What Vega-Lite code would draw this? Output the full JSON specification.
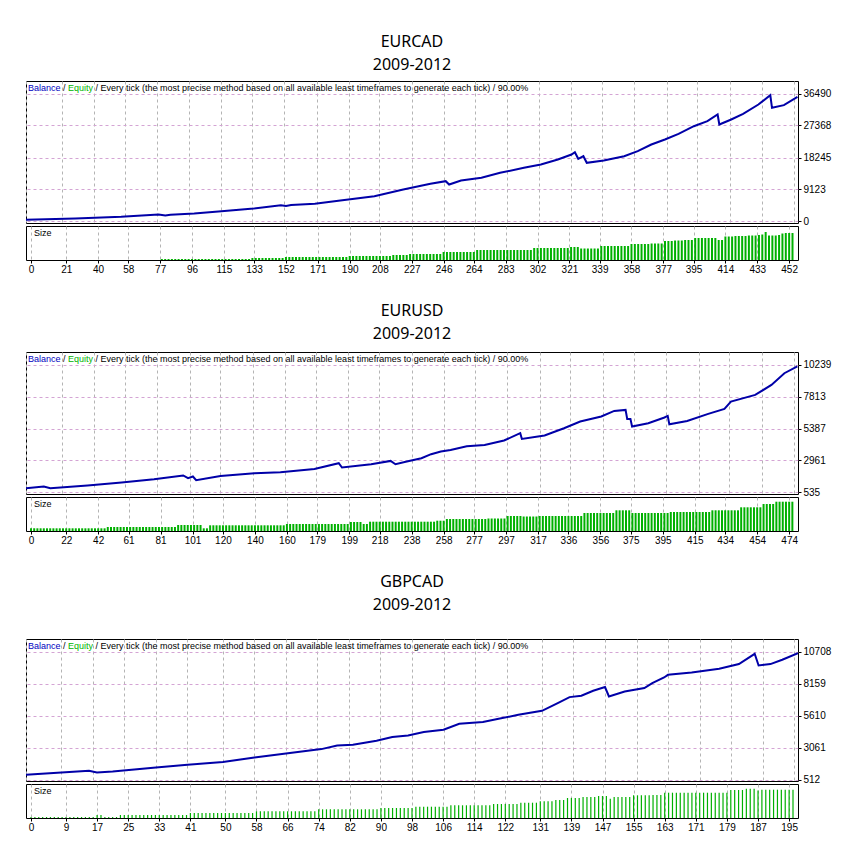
{
  "$schema": "https://vega.github.io/schema/vega-lite/v6.json",
  "background": "#ffffff",
  "padding": {"left": 25, "top": 33, "right": 0, "bottom": 0},
  "spacing": 27,
  "datasets": {
    "eurcad": [
      {"t":0,"v":500},{"t":29,"v":855},{"t":56,"v":1340},{"t":78,"v":2000},{"t":82,"v":1700},{"t":85,"v":1900},{"t":99,"v":2280},{"t":115,"v":2940},{"t":134,"v":3700},{"t":150,"v":4650},{"t":153,"v":4400},{"t":156,"v":4700},{"t":170,"v":5040},{"t":185,"v":5990},{"t":205,"v":7220},{"t":222,"v":9120},{"t":238,"v":10740},{"t":247,"v":11490},{"t":249,"v":10550},{"t":256,"v":11690},{"t":268,"v":12450},{"t":279,"v":13880},{"t":293,"v":15310},{"t":303,"v":16250},{"t":313,"v":17680},{"t":321,"v":19100},{"t":323,"v":19760},{"t":325,"v":17870},{"t":328,"v":18620},{"t":330,"v":16730},{"t":340,"v":17390},{"t":352,"v":18620},{"t":360,"v":20040},{"t":368,"v":21950},{"t":376,"v":23380},{"t":384,"v":25000},{"t":393,"v":27170},{"t":401,"v":28600},{"t":407,"v":30500},{"t":408,"v":27650},{"t":415,"v":29080},{"t":422,"v":30700},{"t":431,"v":33360},{"t":438,"v":36010},{"t":439,"v":32410},{"t":446,"v":33160},{"t":454,"v":35500}
    ],
    "eurcad_size": [
      {"t":78,"v":0.1},{"t":80,"v":0.1},{"t":82,"v":0.1},{"t":84,"v":0.1},{"t":86,"v":0.1},{"t":88,"v":0.1},{"t":90,"v":0.1},{"t":92,"v":0.1},{"t":94,"v":0.1},{"t":96,"v":0.1},{"t":98,"v":0.1},{"t":100,"v":0.1},{"t":102,"v":0.1},{"t":104,"v":0.1},{"t":106,"v":0.1},{"t":108,"v":0.1},{"t":110,"v":0.1},{"t":112,"v":0.1},{"t":114,"v":0.1},{"t":116,"v":0.1},{"t":118,"v":0.1},{"t":120,"v":0.1},{"t":122,"v":0.1},{"t":124,"v":0.1},{"t":126,"v":0.1},{"t":128,"v":0.1},{"t":130,"v":0.1},
      {"t":132,"v":0.2},{"t":134,"v":0.2},{"t":136,"v":0.2},{"t":138,"v":0.2},{"t":140,"v":0.2},{"t":142,"v":0.2},{"t":144,"v":0.2},{"t":146,"v":0.2},{"t":148,"v":0.2},{"t":150,"v":0.2},
      {"t":152,"v":0.3},{"t":154,"v":0.3},{"t":156,"v":0.3},{"t":158,"v":0.3},{"t":160,"v":0.3},{"t":162,"v":0.3},{"t":164,"v":0.3},{"t":166,"v":0.3},{"t":168,"v":0.3},{"t":170,"v":0.3},{"t":172,"v":0.3},{"t":174,"v":0.3},{"t":176,"v":0.3},{"t":178,"v":0.3},{"t":180,"v":0.3},{"t":182,"v":0.3},{"t":184,"v":0.3},{"t":186,"v":0.3},{"t":188,"v":0.3},
      {"t":190,"v":0.4},{"t":192,"v":0.4},{"t":194,"v":0.4},{"t":196,"v":0.4},{"t":198,"v":0.4},{"t":200,"v":0.4},{"t":202,"v":0.4},{"t":204,"v":0.4},{"t":206,"v":0.4},{"t":208,"v":0.4},{"t":210,"v":0.4},{"t":212,"v":0.4},{"t":214,"v":0.4},{"t":216,"v":0.5},{"t":218,"v":0.5},{"t":220,"v":0.5},{"t":222,"v":0.5},{"t":224,"v":0.5},
      {"t":226,"v":0.6},{"t":228,"v":0.6},{"t":230,"v":0.6},{"t":232,"v":0.6},{"t":234,"v":0.6},{"t":236,"v":0.6},{"t":238,"v":0.6},{"t":240,"v":0.6},{"t":242,"v":0.6},{"t":244,"v":0.6},
      {"t":246,"v":0.8},{"t":248,"v":0.8},{"t":250,"v":0.8},{"t":252,"v":0.8},{"t":254,"v":0.8},{"t":256,"v":0.8},{"t":258,"v":0.8},{"t":260,"v":0.8},{"t":262,"v":0.8},{"t":264,"v":0.8},
      {"t":266,"v":1.0},{"t":268,"v":1.0},{"t":270,"v":1.0},{"t":272,"v":1.0},{"t":274,"v":1.0},{"t":276,"v":1.0},{"t":278,"v":1.0},{"t":280,"v":1.0},{"t":282,"v":1.0},{"t":284,"v":1.0},{"t":286,"v":1.0},{"t":288,"v":1.0},{"t":290,"v":1.0},{"t":292,"v":1.0},{"t":294,"v":1.0},{"t":296,"v":1.0},{"t":298,"v":1.0},
      {"t":300,"v":1.2},{"t":302,"v":1.2},{"t":304,"v":1.2},{"t":306,"v":1.2},{"t":308,"v":1.2},{"t":310,"v":1.2},{"t":312,"v":1.2},{"t":314,"v":1.2},{"t":316,"v":1.2},{"t":318,"v":1.2},{"t":320,"v":1.2},
      {"t":322,"v":1.3},{"t":324,"v":1.3},{"t":326,"v":1.3},
      {"t":328,"v":1.15},{"t":330,"v":1.15},{"t":332,"v":1.15},{"t":334,"v":1.15},{"t":336,"v":1.15},{"t":338,"v":1.15},
      {"t":340,"v":1.4},{"t":342,"v":1.4},{"t":344,"v":1.4},{"t":346,"v":1.4},{"t":348,"v":1.4},{"t":350,"v":1.4},{"t":352,"v":1.4},{"t":354,"v":1.4},{"t":356,"v":1.4},
      {"t":358,"v":1.6},{"t":360,"v":1.6},{"t":362,"v":1.6},{"t":364,"v":1.6},{"t":366,"v":1.6},{"t":368,"v":1.6},{"t":370,"v":1.65},{"t":372,"v":1.65},{"t":374,"v":1.65},{"t":376,"v":1.65},
      {"t":378,"v":1.9},{"t":380,"v":1.9},{"t":382,"v":1.9},{"t":384,"v":1.95},{"t":386,"v":1.95},{"t":388,"v":1.95},{"t":390,"v":2.0},{"t":392,"v":2.0},{"t":394,"v":2.0},
      {"t":396,"v":2.2},{"t":398,"v":2.2},{"t":400,"v":2.2},{"t":402,"v":2.2},{"t":404,"v":2.2},{"t":406,"v":2.2},{"t":408,"v":2.2},
      {"t":410,"v":2.0},{"t":412,"v":2.0},
      {"t":414,"v":2.35},{"t":416,"v":2.35},{"t":418,"v":2.35},{"t":420,"v":2.4},{"t":422,"v":2.4},{"t":424,"v":2.4},{"t":426,"v":2.4},{"t":428,"v":2.45},{"t":430,"v":2.45},{"t":432,"v":2.45},
      {"t":434,"v":2.5},{"t":436,"v":2.55},{"t":438,"v":2.8},
      {"t":440,"v":2.45},{"t":442,"v":2.45},{"t":444,"v":2.45},{"t":446,"v":2.5},
      {"t":448,"v":2.65},{"t":450,"v":2.7},{"t":452,"v":2.7},{"t":454,"v":2.7}
    ],
    "eurusd": [
      {"t":0,"v":861},{"t":11,"v":990},{"t":15,"v":860},{"t":38,"v":1065},{"t":59,"v":1293},{"t":79,"v":1543},{"t":97,"v":1824},{"t":100,"v":1620},{"t":103,"v":1750},{"t":105,"v":1467},{"t":120,"v":1793},{"t":141,"v":1998},{"t":157,"v":2074},{"t":178,"v":2324},{"t":193,"v":2756},{"t":195,"v":2430},{"t":213,"v":2680},{"t":225,"v":2930},{"t":228,"v":2680},{"t":235,"v":2885},{"t":244,"v":3135},{"t":250,"v":3440},{"t":256,"v":3640},{"t":262,"v":3764},{"t":272,"v":4044},{"t":283,"v":4143},{"t":295,"v":4476},{"t":305,"v":5030},{"t":306,"v":4598},{"t":320,"v":4855},{"t":332,"v":5409},{"t":342,"v":5917},{"t":355,"v":6296},{"t":363,"v":6720},{"t":370,"v":6796},{"t":371,"v":6114},{"t":373,"v":6114},{"t":374,"v":5538},{"t":384,"v":5788},{"t":394,"v":6220},{"t":396,"v":6340},{"t":397,"v":5710},{"t":408,"v":5962},{"t":421,"v":6493},{"t":431,"v":6872},{"t":435,"v":7433},{"t":450,"v":7933},{"t":460,"v":8691},{"t":468,"v":9578},{"t":476,"v":10100}
    ],
    "eurusd_size": [
      {"t":0,"v":0.27},{"t":2,"v":0.27},{"t":4,"v":0.27},{"t":6,"v":0.27},{"t":8,"v":0.27},{"t":10,"v":0.27},{"t":12,"v":0.27},{"t":14,"v":0.27},{"t":16,"v":0.27},{"t":18,"v":0.27},{"t":20,"v":0.27},{"t":22,"v":0.27},{"t":24,"v":0.27},{"t":26,"v":0.27},{"t":28,"v":0.27},{"t":30,"v":0.27},{"t":32,"v":0.27},{"t":34,"v":0.27},{"t":36,"v":0.27},{"t":38,"v":0.27},{"t":40,"v":0.27},{"t":42,"v":0.27},{"t":44,"v":0.27},{"t":46,"v":0.27},
      {"t":48,"v":0.4},{"t":50,"v":0.4},{"t":52,"v":0.4},{"t":54,"v":0.4},{"t":56,"v":0.4},{"t":58,"v":0.4},{"t":60,"v":0.4},{"t":62,"v":0.4},{"t":64,"v":0.4},{"t":66,"v":0.4},{"t":68,"v":0.4},{"t":70,"v":0.4},{"t":72,"v":0.4},{"t":74,"v":0.4},{"t":76,"v":0.4},{"t":78,"v":0.4},{"t":80,"v":0.4},{"t":82,"v":0.4},{"t":84,"v":0.4},{"t":86,"v":0.4},{"t":88,"v":0.4},{"t":90,"v":0.4},
      {"t":92,"v":0.6},{"t":94,"v":0.6},{"t":96,"v":0.6},{"t":98,"v":0.6},{"t":100,"v":0.6},{"t":102,"v":0.6},{"t":104,"v":0.6},{"t":106,"v":0.6},
      {"t":108,"v":0.27},{"t":110,"v":0.27},
      {"t":112,"v":0.57},{"t":114,"v":0.57},{"t":116,"v":0.57},{"t":118,"v":0.57},{"t":120,"v":0.57},{"t":122,"v":0.57},{"t":124,"v":0.57},{"t":126,"v":0.57},{"t":128,"v":0.57},{"t":130,"v":0.57},{"t":132,"v":0.57},{"t":134,"v":0.57},{"t":136,"v":0.57},{"t":138,"v":0.57},{"t":140,"v":0.57},{"t":142,"v":0.57},{"t":144,"v":0.57},{"t":146,"v":0.57},{"t":148,"v":0.57},{"t":150,"v":0.57},{"t":152,"v":0.57},{"t":154,"v":0.57},{"t":156,"v":0.57},{"t":158,"v":0.57},
      {"t":160,"v":0.7},{"t":162,"v":0.7},{"t":164,"v":0.7},{"t":166,"v":0.7},{"t":168,"v":0.7},{"t":170,"v":0.7},{"t":172,"v":0.7},{"t":174,"v":0.7},{"t":176,"v":0.7},{"t":178,"v":0.7},{"t":180,"v":0.7},{"t":182,"v":0.7},{"t":184,"v":0.7},{"t":186,"v":0.7},{"t":188,"v":0.7},{"t":190,"v":0.7},{"t":192,"v":0.7},{"t":194,"v":0.7},{"t":196,"v":0.7},{"t":198,"v":0.7},
      {"t":200,"v":0.9},{"t":202,"v":0.9},{"t":204,"v":0.9},{"t":206,"v":0.9},
      {"t":208,"v":0.7},{"t":210,"v":0.7},
      {"t":212,"v":0.93},{"t":214,"v":0.93},{"t":216,"v":0.93},{"t":218,"v":0.93},{"t":220,"v":0.93},{"t":222,"v":0.93},{"t":224,"v":0.93},{"t":226,"v":0.93},{"t":228,"v":0.93},{"t":230,"v":0.93},{"t":232,"v":0.93},{"t":234,"v":0.93},{"t":236,"v":0.93},{"t":238,"v":0.93},{"t":240,"v":0.93},{"t":242,"v":0.93},{"t":244,"v":0.93},{"t":246,"v":0.93},{"t":248,"v":0.93},{"t":250,"v":0.93},{"t":252,"v":0.93},
      {"t":254,"v":1.03},{"t":256,"v":1.03},{"t":258,"v":1.03},
      {"t":260,"v":1.2},{"t":262,"v":1.2},{"t":264,"v":1.2},{"t":266,"v":1.2},{"t":268,"v":1.2},{"t":270,"v":1.2},{"t":272,"v":1.2},{"t":274,"v":1.2},{"t":276,"v":1.2},{"t":278,"v":1.2},{"t":280,"v":1.2},{"t":282,"v":1.2},{"t":284,"v":1.2},{"t":286,"v":1.25},{"t":288,"v":1.25},{"t":290,"v":1.25},{"t":292,"v":1.25},{"t":294,"v":1.25},{"t":296,"v":1.25},
      {"t":298,"v":1.5},{"t":300,"v":1.5},{"t":302,"v":1.5},{"t":304,"v":1.5},{"t":306,"v":1.5},{"t":308,"v":1.45},{"t":310,"v":1.45},{"t":312,"v":1.45},{"t":314,"v":1.45},{"t":316,"v":1.45},{"t":318,"v":1.5},{"t":320,"v":1.5},{"t":322,"v":1.5},{"t":324,"v":1.5},{"t":326,"v":1.5},{"t":328,"v":1.5},{"t":330,"v":1.5},{"t":332,"v":1.5},{"t":334,"v":1.5},{"t":336,"v":1.5},{"t":338,"v":1.5},{"t":340,"v":1.5},{"t":342,"v":1.5},{"t":344,"v":1.5},
      {"t":346,"v":1.8},{"t":348,"v":1.8},{"t":350,"v":1.8},{"t":352,"v":1.8},{"t":354,"v":1.8},{"t":356,"v":1.8},{"t":358,"v":1.8},{"t":360,"v":1.8},{"t":362,"v":1.8},{"t":364,"v":1.8},
      {"t":366,"v":2.07},{"t":368,"v":2.07},{"t":370,"v":2.07},{"t":372,"v":2.07},{"t":374,"v":2.07},
      {"t":376,"v":1.8},{"t":378,"v":1.8},{"t":380,"v":1.8},{"t":382,"v":1.8},{"t":384,"v":1.8},{"t":386,"v":1.8},{"t":388,"v":1.8},{"t":390,"v":1.8},{"t":392,"v":1.8},{"t":394,"v":1.8},{"t":396,"v":1.8},{"t":398,"v":1.8},
      {"t":400,"v":1.9},{"t":402,"v":1.9},{"t":404,"v":1.9},{"t":406,"v":1.9},{"t":408,"v":1.9},{"t":410,"v":1.9},{"t":412,"v":1.9},{"t":414,"v":1.9},{"t":416,"v":1.9},{"t":418,"v":1.9},{"t":420,"v":1.9},{"t":422,"v":1.9},{"t":424,"v":1.9},
      {"t":426,"v":2.07},{"t":428,"v":2.07},{"t":430,"v":2.07},{"t":432,"v":2.07},{"t":434,"v":2.07},{"t":436,"v":2.07},{"t":438,"v":2.07},{"t":440,"v":2.07},{"t":442,"v":2.07},
      {"t":444,"v":2.37},{"t":446,"v":2.37},{"t":448,"v":2.37},{"t":450,"v":2.37},{"t":452,"v":2.37},{"t":454,"v":2.37},{"t":456,"v":2.37},
      {"t":458,"v":2.7},{"t":460,"v":2.7},{"t":462,"v":2.7},{"t":464,"v":2.7},
      {"t":466,"v":2.93},{"t":468,"v":2.93},{"t":470,"v":2.93},{"t":472,"v":2.93},{"t":474,"v":2.93},{"t":476,"v":2.93}
    ],
    "gbpcad": [
      {"t":0,"v":886},{"t":8,"v":1046},{"t":16,"v":1205},{"t":18,"v":1070},{"t":22,"v":1149},{"t":33,"v":1468},{"t":41,"v":1683},{"t":50,"v":1898},{"t":58,"v":2265},{"t":66,"v":2583},{"t":75,"v":2934},{"t":79,"v":3220},{"t":83,"v":3276},{"t":89,"v":3595},{"t":93,"v":3890},{"t":97,"v":4017},{"t":101,"v":4288},{"t":106,"v":4471},{"t":110,"v":4949},{"t":116,"v":5085},{"t":120,"v":5347},{"t":125,"v":5666},{"t":131,"v":5985},{"t":135,"v":6598},{"t":138,"v":7076},{"t":141,"v":7180},{"t":144,"v":7578},{"t":147,"v":7873},{"t":148,"v":7124},{"t":152,"v":7522},{"t":157,"v":7793},{"t":159,"v":8191},{"t":162,"v":8637},{"t":163,"v":8852},{"t":169,"v":9036},{"t":176,"v":9330},{"t":181,"v":9705},{"t":185,"v":10525},{"t":186,"v":9593},{"t":189,"v":9705},{"t":192,"v":10050},{"t":196,"v":10580}
    ],
    "gbpcad_size": [
      {"t":0,"v":0.1},{"t":1,"v":0.1},{"t":2,"v":0.1},{"t":3,"v":0.1},{"t":4,"v":0.1},{"t":5,"v":0.1},{"t":6,"v":0.1},{"t":7,"v":0.1},{"t":8,"v":0.1},{"t":9,"v":0.1},{"t":10,"v":0.1},{"t":11,"v":0.1},{"t":12,"v":0.1},{"t":13,"v":0.1},{"t":14,"v":0.1},{"t":15,"v":0.1},{"t":16,"v":0.1},
      {"t":17,"v":0.3},{"t":18,"v":0.3},
      {"t":19,"v":0.1},{"t":20,"v":0.1},{"t":21,"v":0.1},{"t":22,"v":0.1},
      {"t":23,"v":0.3},{"t":24,"v":0.3},{"t":25,"v":0.3},{"t":26,"v":0.3},{"t":27,"v":0.3},{"t":28,"v":0.3},{"t":29,"v":0.3},{"t":30,"v":0.3},{"t":31,"v":0.3},{"t":32,"v":0.3},{"t":33,"v":0.3},{"t":34,"v":0.3},{"t":35,"v":0.3},{"t":36,"v":0.3},{"t":37,"v":0.3},{"t":38,"v":0.3},{"t":39,"v":0.3},{"t":40,"v":0.3},
      {"t":41,"v":0.5},{"t":42,"v":0.5},{"t":43,"v":0.5},{"t":44,"v":0.5},{"t":45,"v":0.5},{"t":46,"v":0.5},{"t":47,"v":0.5},{"t":48,"v":0.5},{"t":49,"v":0.5},{"t":50,"v":0.5},{"t":51,"v":0.5},{"t":52,"v":0.5},{"t":53,"v":0.5},{"t":54,"v":0.5},{"t":55,"v":0.5},{"t":56,"v":0.5},{"t":57,"v":0.5},
      {"t":58,"v":0.67},{"t":59,"v":0.67},{"t":60,"v":0.67},{"t":61,"v":0.67},{"t":62,"v":0.67},{"t":63,"v":0.67},{"t":64,"v":0.67},{"t":65,"v":0.67},{"t":66,"v":0.67},{"t":67,"v":0.67},{"t":68,"v":0.67},{"t":69,"v":0.67},{"t":70,"v":0.67},{"t":71,"v":0.67},{"t":72,"v":0.67},{"t":73,"v":0.67},
      {"t":74,"v":0.87},{"t":75,"v":0.87},{"t":76,"v":0.87},{"t":77,"v":0.87},{"t":78,"v":0.87},{"t":79,"v":0.87},{"t":80,"v":0.87},{"t":81,"v":0.87},{"t":82,"v":0.87},{"t":83,"v":0.87},{"t":84,"v":0.87},{"t":85,"v":0.87},{"t":86,"v":0.87},{"t":87,"v":0.87},{"t":88,"v":0.87},{"t":89,"v":0.87},
      {"t":90,"v":1.0},{"t":91,"v":1.0},{"t":92,"v":1.0},{"t":93,"v":1.0},{"t":94,"v":1.0},{"t":95,"v":1.0},{"t":96,"v":1.0},{"t":97,"v":1.0},{"t":98,"v":1.0},
      {"t":99,"v":1.13},{"t":100,"v":1.13},{"t":101,"v":1.13},{"t":102,"v":1.13},{"t":103,"v":1.13},{"t":104,"v":1.13},{"t":105,"v":1.13},{"t":106,"v":1.13},{"t":107,"v":1.13},
      {"t":108,"v":1.27},{"t":109,"v":1.27},{"t":110,"v":1.27},{"t":111,"v":1.27},{"t":112,"v":1.27},{"t":113,"v":1.27},{"t":114,"v":1.27},{"t":115,"v":1.27},{"t":116,"v":1.27},{"t":117,"v":1.27},{"t":118,"v":1.27},
      {"t":119,"v":1.4},{"t":120,"v":1.4},{"t":121,"v":1.4},{"t":122,"v":1.4},{"t":123,"v":1.4},{"t":124,"v":1.4},{"t":125,"v":1.4},
      {"t":126,"v":1.53},{"t":127,"v":1.53},{"t":128,"v":1.53},{"t":129,"v":1.53},{"t":130,"v":1.53},
      {"t":131,"v":1.67},{"t":132,"v":1.67},{"t":133,"v":1.67},{"t":134,"v":1.67},
      {"t":135,"v":1.8},{"t":136,"v":1.8},{"t":137,"v":1.8},
      {"t":138,"v":2.0},{"t":139,"v":2.0},{"t":140,"v":2.0},{"t":141,"v":2.0},
      {"t":142,"v":2.1},{"t":143,"v":2.1},{"t":144,"v":2.1},{"t":145,"v":2.1},{"t":146,"v":2.2},{"t":147,"v":2.2},{"t":148,"v":2.2},
      {"t":149,"v":1.93},
      {"t":150,"v":2.1},{"t":151,"v":2.1},{"t":152,"v":2.1},{"t":153,"v":2.1},{"t":154,"v":2.1},
      {"t":155,"v":2.27},{"t":156,"v":2.27},{"t":157,"v":2.27},{"t":158,"v":2.27},{"t":159,"v":2.27},{"t":160,"v":2.3},{"t":161,"v":2.3},{"t":162,"v":2.3},
      {"t":163,"v":2.53},{"t":164,"v":2.53},{"t":165,"v":2.53},{"t":166,"v":2.53},{"t":167,"v":2.53},{"t":168,"v":2.53},{"t":169,"v":2.53},{"t":170,"v":2.53},{"t":171,"v":2.53},{"t":172,"v":2.53},{"t":173,"v":2.53},{"t":174,"v":2.53},{"t":175,"v":2.53},{"t":176,"v":2.53},{"t":177,"v":2.53},{"t":178,"v":2.53},{"t":179,"v":2.53},
      {"t":180,"v":2.8},{"t":181,"v":2.8},{"t":182,"v":2.8},{"t":183,"v":2.8},
      {"t":184,"v":2.93},{"t":185,"v":2.93},{"t":186,"v":2.93},
      {"t":187,"v":2.75},
      {"t":188,"v":2.83},{"t":189,"v":2.83},{"t":190,"v":2.83},{"t":191,"v":2.83},{"t":192,"v":2.83},{"t":193,"v":2.83},{"t":194,"v":2.83},{"t":195,"v":2.83},{"t":196,"v":2.83}
    ]
  },
  "vconcat": [
    {
      "spacing": 3,
      "bounds": "flush",
      "vconcat": [
        {
          "title": {"text": ["EURCAD", "2009-2012"], "offset": 8},
          "width": 772,
          "height": 142,
          "layer": [
            {
              "data": {"name": "eurcad"},
              "mark": {"type": "line", "color": "#0000a8", "strokeWidth": 2, "clip": true},
              "encoding": {
                "x": {"field": "t", "type": "quantitative", "scale": {"domain": [0, 454.3], "nice": false, "zero": false},
                  "axis": {"values": [0,21,40,58,77,96,115,133,152,171,190,208,227,246,264,283,302,321,339,358,377,395,414,433,452], "tickCount": 40, "labels": false, "ticks": false, "domain": false, "grid": true, "gridColor": "#b4b4b4", "title": null}},
                "y": {"field": "v", "type": "quantitative", "scale": {"domain": [-428, 40054], "nice": false, "zero": false},
                  "axis": {"orient": "right", "values": [0, 9123, 18245, 27368, 36490], "tickCount": 10, "labelOverlap": false, "format": "d", "grid": true, "gridColor": "#d4a4d4", "domain": false, "tickSize": 3, "labelPadding": 2, "title": null}}
              }
            },
            {"data": {"values": [{}]}, "mark": {"type": "text", "align": "left", "baseline": "top", "dx": 2, "dy": 3, "color": "#0000c0", "text": "Balance"}, "encoding": {"x": {"datum": 0, "type": "quantitative"}, "y": {"datum": 40054, "type": "quantitative"}}},
            {"data": {"values": [{}]}, "mark": {"type": "text", "align": "left", "baseline": "top", "dx": 37, "dy": 3, "color": "#000000", "text": "/"}, "encoding": {"x": {"datum": 0, "type": "quantitative"}, "y": {"datum": 40054, "type": "quantitative"}}},
            {"data": {"values": [{}]}, "mark": {"type": "text", "align": "left", "baseline": "top", "dx": 42, "dy": 3, "color": "#00b400", "text": "Equity"}, "encoding": {"x": {"datum": 0, "type": "quantitative"}, "y": {"datum": 40054, "type": "quantitative"}}},
            {"data": {"values": [{}]}, "mark": {"type": "text", "align": "left", "baseline": "top", "dx": 69.5, "dy": 3, "color": "#000000", "text": "/ Every tick (the most precise method based on all available least timeframes to generate each tick) / 90.00%"}, "encoding": {"x": {"datum": 0, "type": "quantitative"}, "y": {"datum": 40054, "type": "quantitative"}}}
          ]
        },
        {
          "width": 772,
          "height": 34,
          "layer": [
            {
              "data": {"name": "eurcad_size"},
              "mark": {"type": "bar", "size": 2, "color": "#00b000", "clip": true},
              "encoding": {
                "x": {"field": "t", "type": "quantitative", "scale": {"domain": [0, 454.3], "nice": false, "zero": false},
                  "axis": {"values": [0,21,40,58,77,96,115,133,152,171,190,208,227,246,264,283,302,321,339,358,377,395,414,433,452], "tickCount": 40, "grid": true, "gridColor": "#b4b4b4", "domain": false, "tickSize": 3, "labelPadding": 1, "labelFlush": true, "labelOverlap": false, "title": null}},
                "y": {"field": "v", "type": "quantitative", "scale": {"domain": [0, 3.4], "nice": false}, "axis": null}
              }
            },
            {"data": {"values": [{}]}, "mark": {"type": "text", "align": "left", "baseline": "top", "dx": 3, "dy": 3, "color": "#000000", "text": "Size"}, "encoding": {"x": {"datum": 0, "type": "quantitative"}, "y": {"datum": 3.4, "type": "quantitative"}}}
          ]
        }
      ]
    },
    {
      "spacing": 3,
      "bounds": "flush",
      "vconcat": [
        {
          "title": {"text": ["EURUSD", "2009-2012"], "offset": 10},
          "width": 772,
          "height": 142,
          "layer": [
            {
              "data": {"name": "eurusd"},
              "mark": {"type": "line", "color": "#0000a8", "strokeWidth": 2, "clip": true},
              "encoding": {
                "x": {"field": "t", "type": "quantitative", "scale": {"domain": [0, 476.4], "nice": false, "zero": false},
                  "axis": {"values": [0,22,42,61,81,101,120,140,160,179,199,218,238,258,277,297,317,336,356,375,395,415,434,454,474], "tickCount": 40, "labels": false, "ticks": false, "domain": false, "grid": true, "gridColor": "#b4b4b4", "title": null}},
                "y": {"field": "v", "type": "quantitative", "scale": {"domain": [421, 11187], "nice": false, "zero": false},
                  "axis": {"orient": "right", "values": [535, 2961, 5387, 7813, 10239], "tickCount": 10, "labelOverlap": false, "format": "d", "grid": true, "gridColor": "#d4a4d4", "domain": false, "tickSize": 3, "labelPadding": 2, "title": null}}
              }
            },
            {"data": {"values": [{}]}, "mark": {"type": "text", "align": "left", "baseline": "top", "dx": 2, "dy": 3, "color": "#0000c0", "text": "Balance"}, "encoding": {"x": {"datum": 0, "type": "quantitative"}, "y": {"datum": 11187, "type": "quantitative"}}},
            {"data": {"values": [{}]}, "mark": {"type": "text", "align": "left", "baseline": "top", "dx": 37, "dy": 3, "color": "#000000", "text": "/"}, "encoding": {"x": {"datum": 0, "type": "quantitative"}, "y": {"datum": 11187, "type": "quantitative"}}},
            {"data": {"values": [{}]}, "mark": {"type": "text", "align": "left", "baseline": "top", "dx": 42, "dy": 3, "color": "#00b400", "text": "Equity"}, "encoding": {"x": {"datum": 0, "type": "quantitative"}, "y": {"datum": 11187, "type": "quantitative"}}},
            {"data": {"values": [{}]}, "mark": {"type": "text", "align": "left", "baseline": "top", "dx": 69.5, "dy": 3, "color": "#000000", "text": "/ Every tick (the most precise method based on all available least timeframes to generate each tick) / 90.00%"}, "encoding": {"x": {"datum": 0, "type": "quantitative"}, "y": {"datum": 11187, "type": "quantitative"}}}
          ]
        },
        {
          "width": 772,
          "height": 34,
          "layer": [
            {
              "data": {"name": "eurusd_size"},
              "mark": {"type": "bar", "size": 2, "color": "#00b000", "clip": true},
              "encoding": {
                "x": {"field": "t", "type": "quantitative", "scale": {"domain": [0, 476.4], "nice": false, "zero": false},
                  "axis": {"values": [0,22,42,61,81,101,120,140,160,179,199,218,238,258,277,297,317,336,356,375,395,415,434,454,474], "tickCount": 40, "grid": true, "gridColor": "#b4b4b4", "domain": false, "tickSize": 3, "labelPadding": 1, "labelFlush": true, "labelOverlap": false, "title": null}},
                "y": {"field": "v", "type": "quantitative", "scale": {"domain": [0, 3.4], "nice": false}, "axis": null}
              }
            },
            {"data": {"values": [{}]}, "mark": {"type": "text", "align": "left", "baseline": "top", "dx": 3, "dy": 3, "color": "#000000", "text": "Size"}, "encoding": {"x": {"datum": 0, "type": "quantitative"}, "y": {"datum": 3.4, "type": "quantitative"}}}
          ]
        }
      ]
    },
    {
      "spacing": 3,
      "bounds": "flush",
      "vconcat": [
        {
          "title": {"text": ["GBPCAD", "2009-2012"], "offset": 26},
          "width": 772,
          "height": 142,
          "layer": [
            {
              "data": {"name": "gbpcad"},
              "mark": {"type": "line", "color": "#0000a8", "strokeWidth": 2, "clip": true},
              "encoding": {
                "x": {"field": "t", "type": "quantitative", "scale": {"domain": [0, 196], "nice": false, "zero": false},
                  "axis": {"values": [0,9,17,25,33,41,50,58,66,74,82,90,98,106,114,122,131,139,147,155,163,171,179,187,195], "tickCount": 40, "labels": false, "ticks": false, "domain": false, "grid": true, "gridColor": "#b4b4b4", "title": null}},
                "y": {"field": "v", "type": "quantitative", "scale": {"domain": [393, 11704], "nice": false, "zero": false},
                  "axis": {"orient": "right", "values": [512, 3061, 5610, 8159, 10708], "tickCount": 10, "labelOverlap": false, "format": "d", "grid": true, "gridColor": "#d4a4d4", "domain": false, "tickSize": 3, "labelPadding": 2, "title": null}}
              }
            },
            {"data": {"values": [{}]}, "mark": {"type": "text", "align": "left", "baseline": "top", "dx": 2, "dy": 3, "color": "#0000c0", "text": "Balance"}, "encoding": {"x": {"datum": 0, "type": "quantitative"}, "y": {"datum": 11704, "type": "quantitative"}}},
            {"data": {"values": [{}]}, "mark": {"type": "text", "align": "left", "baseline": "top", "dx": 37, "dy": 3, "color": "#000000", "text": "/"}, "encoding": {"x": {"datum": 0, "type": "quantitative"}, "y": {"datum": 11704, "type": "quantitative"}}},
            {"data": {"values": [{}]}, "mark": {"type": "text", "align": "left", "baseline": "top", "dx": 42, "dy": 3, "color": "#00b400", "text": "Equity"}, "encoding": {"x": {"datum": 0, "type": "quantitative"}, "y": {"datum": 11704, "type": "quantitative"}}},
            {"data": {"values": [{}]}, "mark": {"type": "text", "align": "left", "baseline": "top", "dx": 69.5, "dy": 3, "color": "#000000", "text": "/ Every tick (the most precise method based on all available least timeframes to generate each tick) / 90.00%"}, "encoding": {"x": {"datum": 0, "type": "quantitative"}, "y": {"datum": 11704, "type": "quantitative"}}}
          ]
        },
        {
          "width": 772,
          "height": 34,
          "layer": [
            {
              "data": {"name": "gbpcad_size"},
              "mark": {"type": "bar", "size": 1.2, "color": "#00b000", "clip": true},
              "encoding": {
                "x": {"field": "t", "type": "quantitative", "scale": {"domain": [0, 196], "nice": false, "zero": false},
                  "axis": {"values": [0,9,17,25,33,41,50,58,66,74,82,90,98,106,114,122,131,139,147,155,163,171,179,187,195], "tickCount": 40, "grid": true, "gridColor": "#b4b4b4", "domain": false, "tickSize": 3, "labelPadding": 1, "labelFlush": true, "labelOverlap": false, "title": null}},
                "y": {"field": "v", "type": "quantitative", "scale": {"domain": [0, 3.4], "nice": false}, "axis": null}
              }
            },
            {"data": {"values": [{}]}, "mark": {"type": "text", "align": "left", "baseline": "top", "dx": 3, "dy": 3, "color": "#000000", "text": "Size"}, "encoding": {"x": {"datum": 0, "type": "quantitative"}, "y": {"datum": 3.4, "type": "quantitative"}}}
          ]
        }
      ]
    }
  ],
  "config": {
    "view": {"stroke": "#000000", "strokeWidth": 1},
    "axis": {"labelFont": "Liberation Sans", "labelFontSize": 10, "labelColor": "#000000", "tickColor": "#000000", "gridDash": [3, 3], "gridWidth": 1},
    "title": {"font": "Noto Sans", "fontSize": 16, "fontWeight": "normal", "color": "#000000", "lineHeight": 23.5, "anchor": "middle"},
    "text": {"font": "Liberation Sans", "fontSize": 9}
  }
}
